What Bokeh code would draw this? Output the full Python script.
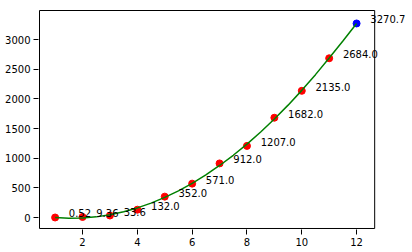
from bokeh.plotting import figure
from bokeh.models import Label, Range1d, FixedTicker, BoxAnnotation
from bokeh.embed import file_html
from bokeh.resources import INLINE

# observed points
x_obs = [1, 2, 3, 4, 5, 6, 7, 8, 9, 10, 11]
y_obs = [0.52, 9.36, 33.6, 132.0, 352.0, 571.0, 912.0, 1207.0, 1682.0, 2135.0, 2684.0]
# predicted point
x_pred = [12]
y_pred = [3270.7]
# fitted curve
x_fit = [1, 1.5, 2, 2.5, 3, 3.5, 4, 4.5, 5, 5.5, 6, 6.5, 7, 7.5, 8, 8.5, 9, 9.5, 10, 10.5, 11, 11.5, 12]
y_fit = [-1, -12, -8, 11, 46, 96, 162, 243, 339, 450, 577, 719, 877, 1049, 1237, 1441, 1660, 1894, 2143, 2408, 2688, 2975, 3270.7]
# label texts
lbl_x = x_obs + x_pred
lbl_y = y_obs + y_pred
lbl_text = ["0.52", "9.36", "33.6", "132.0", "352.0", "571.0", "912.0", "1207.0",
            "1682.0", "2135.0", "2684.0", "3270.7"]
x_ticks = [2, 4, 6, 8, 10, 12]
y_ticks = [0, 500, 1000, 1500, 2000, 2500, 3000]
# axes box limits
x_lo, x_hi = 0.43, 12.66
y_lo, y_hi = -185, 3489

p = figure(width=412, height=252, output_backend="svg", toolbar_location=None,
           x_range=Range1d(0.3935, 14.04), y_range=Range1d(-201.9, 3505.9),
           min_border_left=38, min_border_right=0, min_border_top=9, min_border_bottom=23)
p.grid.visible = False
p.outline_line_color = None
p.background_fill_color = "white"
p.border_fill_color = "white"

for ax in (p.xaxis[0], p.yaxis[0]):
    ax.axis_line_color = None
    ax.major_tick_line_color = "black"
    ax.minor_tick_line_color = None
    ax.major_tick_out = 5
    ax.major_tick_in = 0
    ax.major_label_text_font = "DejaVu Sans"
    ax.major_label_text_font_size = "10px"
    ax.major_label_text_color = "black"
    ax.major_label_standoff = 3
p.xaxis[0].ticker = FixedTicker(ticks=x_ticks)
p.yaxis[0].ticker = FixedTicker(ticks=y_ticks)

p.add_layout(BoxAnnotation(left=x_lo, right=x_hi, bottom=y_lo, top=y_hi,
                           fill_alpha=0, line_color="black", line_alpha=1.0,
                           line_width=1, level="underlay"))

p.scatter(x_obs, y_obs, size=7, color="red")
p.scatter(x_pred, y_pred, size=7, color="blue")
p.line(x_fit, y_fit, line_color="green", line_width=1.5)

for lx, ly, lt in zip(lbl_x, lbl_y, lbl_text):
    p.add_layout(Label(x=lx + 0.5, y=ly, text=lt, text_font="DejaVu Sans",
                       text_font_size="10px", text_color="black", y_offset=4,
                       text_baseline="alphabetic", text_align="left", level="overlay"))

open("out.html", "w").write(file_html(p, INLINE))
